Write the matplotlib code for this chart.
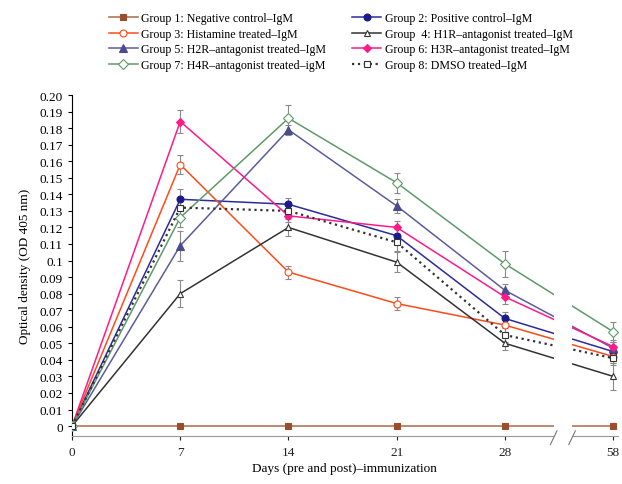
import numpy as np
import matplotlib
matplotlib.use("Agg")
import matplotlib.pyplot as plt
from matplotlib.patches import Rectangle
import matplotlib.transforms as mtransforms

plt.rcParams['font.family'] = ['Liberation Serif', 'DejaVu Serif']

# data
days = ['0', '7', '14', '21', '28', '58']

names = ['Group 1: Negative control\u2013IgM',
         'Group 2: Positive control\u2013IgM',
         'Group 3: Histamine treated\u2013IgM',
         'Group  4: H1R\u2013antagonist treated\u2013IgM',
         'Group 5: H2R\u2013antagonist treated\u2013IgM',
         'Group 6: H3R\u2013antagonist treated\u2013IgM',
         'Group 7: H4R\u2013antagonist treated\u2013igM',
         'Group 8: DMSO treated\u2013IgM']

g1 = [0, 0, 0, 0, 0, 0]
g2 = [0, 0.137, 0.134, 0.115, 0.065, 0.045]
g3 = [0, 0.158, 0.093, 0.074, 0.061, 0.042]
g4 = [0, 0.080, 0.120, 0.099, 0.050, 0.030]
g5 = [0, 0.109, 0.179, 0.133, 0.082, 0.047]
g6 = [0, 0.184, 0.127, 0.120, 0.078, 0.048]
g7 = [0, 0.126, 0.186, 0.147, 0.098, 0.057]
g8 = [0, 0.132, 0.130, 0.111, 0.055, 0.041]

e1 = [0, 0, 0, 0, 0, 0]
e2 = [0, 0.006, 0.004, 0.004, 0.004, 0.004]
e3 = [0, 0.0055, 0.004, 0.004, 0.004, 0.004]
e4 = [0, 0.008, 0.005, 0.006, 0.004, 0.008]
e5 = [0, 0.009, 0.003, 0.004, 0.004, 0.004]
e6 = [0, 0.007, 0.004, 0.004, 0.004, 0.004]
e7 = [0, 0.006, 0.008, 0.006, 0.008, 0.006]
e8 = [0, 0.005, 0.004, 0.005, 0.004, 0.004]

vals = [g1, g2, g3, g4, g5, g6, g7, g8]
errs = [e1, e2, e3, e4, e5, e6, e7, e8]

colors = ['#a86a4a', '#2b2b9c', '#ff4a1a', '#333333',
          '#5c5c9e', '#ff1a8a', '#5e9a6a', '#333333']
mcolors = ['#9a4e2e', '#1a1a8c', '#ff4a1a', '#333333',
           '#4a4a8e', '#ff1a8a', '#5e9a6a', '#333333']
markers = ['s', 'o', 'o', '^', '^', 'D', 'D', 's']
filled = [True, True, False, False, True, True, False, False]
msizes = [5, 5, 5, 5, 6, 4, 5, 5]
styles = ['-', '-', '-', '-', '-', '-', '-', ':']

fig = plt.figure(figsize=(6.22, 4.85), dpi=100)
ax = fig.add_axes([0.1158, 0.099, 0.877, 0.703])

x = np.arange(len(days))
handles = []
for i in range(8):
    ax.errorbar(x, vals[i], yerr=errs[i], fmt='none', ecolor='#8a8a8a',
                elinewidth=0.8, capsize=2, capthick=0.8, zorder=2)
    face = mcolors[i] if filled[i] else 'white'
    lw = 1.6 if styles[i] == ':' else 1.1
    h, = ax.plot(x, vals[i], linestyle=styles[i], color=colors[i], linewidth=lw,
                 marker=markers[i], markersize=msizes[i], markerfacecolor=face,
                 markeredgecolor=mcolors[i], markeredgewidth=0.8,
                 label=names[i], zorder=3)
    handles.append(h)

# axis break between day 28 and day 58
trans = mtransforms.blended_transform_factory(ax.transData, ax.transAxes)
ax.add_patch(Rectangle((4.45, -0.03), 0.17, 1.1, transform=trans,
                       facecolor='white', edgecolor='none', zorder=5, clip_on=False))
for bx in [4.45, 4.62]:
    ax.plot([bx - 0.03, bx + 0.03], [-0.025, 0.015], transform=trans,
            color='#777777', linewidth=0.8, clip_on=False, zorder=6)

ax.set_xlim(0, 5.04)
ax.set_ylim(-0.006, 0.2)
ax.set_xticks(x)
ax.set_xticklabels(days)
ax.set_yticks(np.arange(0, 0.2001, 0.01))
ax.set_yticklabels(['0', '0.01', '0.02', '0.03', '0.04', '0.05', '0.06', '0.07',
                    '0.08', '0.09', '0.1', '0.11', '0.12', '0.13', '0.14', '0.15',
                    '0.16', '0.17', '0.18', '0.19', '0.20'])
ax.tick_params(axis='both', labelsize=9.5, length=3, width=0.8)
ax.tick_params(axis='x', colors='#222222', pad=4)
ax.spines['top'].set_visible(False)
ax.spines['right'].set_visible(False)
ax.spines['bottom'].set_color('#999999')
ax.spines['left'].set_bounds(-0.006, 0.2)

ax.set_ylabel('Optical density (OD 405 nm)', fontsize=9.5, labelpad=6)
ax.set_xlabel('Days (pre and post)\u2013immunization', fontsize=9.5, labelpad=3)

order = [0, 2, 4, 6, 1, 3, 5, 7]
fig.legend([handles[k] for k in order], [names[k] for k in order],
           loc='upper center', bbox_to_anchor=(0.548, 0.99), ncol=2,
           frameon=False, fontsize=8.6, handlelength=2.4, handletextpad=0.3,
           columnspacing=2.2, labelspacing=0.3, borderpad=0.2)

fig.savefig('out.png', dpi=100)
